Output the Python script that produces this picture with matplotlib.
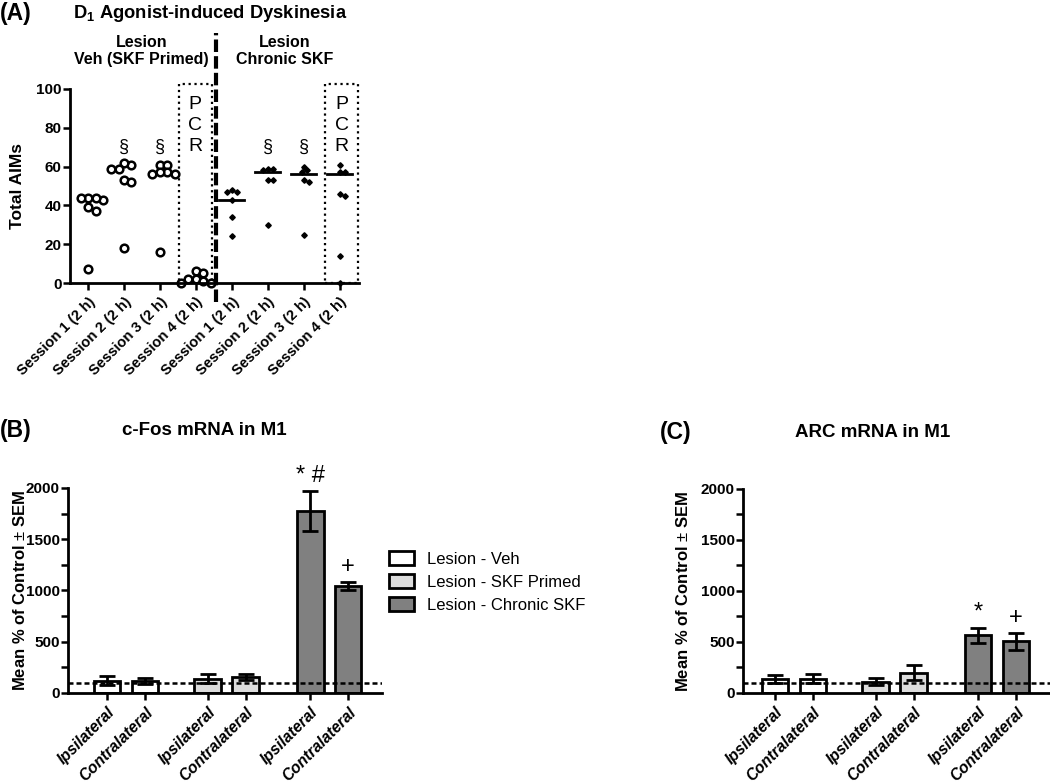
import numpy as np
import matplotlib
matplotlib.use("Agg")
import matplotlib.pyplot as plt
from matplotlib.patches import Patch, Rectangle

plt.rcParams['font.family'] = ['Liberation Sans', 'DejaVu Sans']
plt.rcParams['mathtext.fontset'] = 'custom'
plt.rcParams['mathtext.rm'] = 'Liberation Sans'
plt.rcParams['mathtext.bf'] = 'Liberation Sans:bold'

# ---- panel A data (Total AIMs per animal) ----
sessions = ['Session 1 (2 h)', 'Session 2 (2 h)', 'Session 3 (2 h)', 'Session 4 (2 h)'] * 2
veh_s1 = [44, 43, 44, 44, 39, 37, 7]
veh_s2 = [61, 62, 59, 59, 53, 52, 18]
veh_s3 = [61, 61, 56, 56, 57, 57, 16]
veh_s4 = [6, 5, 2, 1, 0, 0, 2]
chr_s1 = [47, 48, 47, 43, 34, 24]
chr_s2 = [59, 58, 59, 53, 53, 30]
chr_s3 = [60, 58, 57, 53, 52, 25]
chr_s4 = [61, 57, 57, 46, 45, 14, 0]
chr_center = [43, 57, 56, 56]
sig_sessions = [1, 2, 5, 6]

# ---- panels B / C data (mean % of control, SEM) ----
sides = ['Ipsilateral', 'Contralateral'] * 3
groups = ['Lesion - Veh', 'Lesion - SKF Primed', 'Lesion - Chronic SKF']
fos_mean = [120, 115, 140, 155, 1775, 1045]
fos_sem = [45, 28, 45, 30, 195, 38]
arc_mean = [140, 140, 110, 200, 565, 505]
arc_sem = [38, 45, 33, 70, 75, 85]
fos_marks = ['', '', '', '', '* #', '+']
arc_marks = ['', '', '', '', '*', '+']

bar_colors = ['white', 'white', '#dcdcdc', '#dcdcdc', '#808080', '#808080']
bar_pos = [0, 1, 2.65, 3.65, 5.35, 6.35]


def swarm(vals, size_px, sx=36.0, sy=1.94):
    vals = np.asarray(vals, dtype=float)
    offs = np.zeros(len(vals))
    placed = []
    for i in np.argsort(-vals):
        y = vals[i] * sy
        cands = [0.0]
        for j in range(1, 20):
            cands += [j * size_px / 3, -j * size_px / 3]
        for x in cands:
            if all((x - px) ** 2 + (y - py) ** 2 >= size_px ** 2 for px, py in placed):
                break
        placed.append((x, y))
        offs[i] = x / sx
    return offs


fig = plt.figure(figsize=(10.5, 7.84), dpi=100)

# ---------------- panel A ----------------
axA = fig.add_axes([0.0667, 0.639, 0.275, 0.2475])
for k, v in enumerate([veh_s1, veh_s2, veh_s3, veh_s4]):
    o = swarm(v, 7.5)
    axA.plot(k + o, v, 'o', mfc='white', mec='black', mew=1.8, ms=5.5, ls='none', clip_on=False)
for k, v in enumerate([chr_s1, chr_s2, chr_s3, chr_s4]):
    o = swarm(v, 5.0)
    axA.plot(4 + k + o, v, 'D', color='black', ms=2.8, ls='none', clip_on=False)
    axA.plot([4 + k - 0.35, 4 + k + 0.35], [chr_center[k]] * 2, color='black', lw=2)
for k in sig_sessions:
    axA.text(k, 70, '§', ha='center', va='center', fontsize=13)

for x0 in [2.52, 6.6]:
    axA.add_patch(Rectangle((x0, 0), 0.92, 102.5, fill=False, ls=':', lw=1.6,
                            ec='black', clip_on=False))
    for j, ch in enumerate('PCR'):
        axA.text(x0 + 0.46, 92 - 10.8 * j, ch, ha='center', va='center', fontsize=14)

axA.plot([3.55, 3.55], [-10, 129], color='black', lw=3, dashes=(3, 1), clip_on=False)

axA.set_xlim(-0.5, 7.53)
axA.set_ylim(0, 100)
axA.set_yticks([0, 20, 40, 60, 80, 100])
axA.set_xticks(range(8))
axA.set_xticklabels(sessions, rotation=45, ha='right', rotation_mode='anchor',
                    fontsize=10.5, fontweight='bold')
axA.set_ylabel('Total AIMs', fontsize=12.5, fontweight='bold')
axA.yaxis.set_label_coords(-0.155, 0.5)

fig.text(0.0, 0.983, '(A)', fontsize=16.5, fontweight='bold', va='center')
fig.text(0.2, 0.983, r'D$_\mathbf{1}$ Agonist-induced Dyskinesia', fontsize=13.2,
         fontweight='bold', ha='center', va='center')
fig.text(0.135, 0.935, 'Lesion\nVeh (SKF Primed)', fontsize=11.5, fontweight='bold',
         ha='center', va='center', linespacing=1.15)
fig.text(0.271, 0.935, 'Lesion\nChronic SKF', fontsize=11.5, fontweight='bold',
         ha='center', va='center', linespacing=1.15)


# ---------------- panels B / C ----------------
def bar_panel(rect, means, sems, marks, xlim, label_x):
    ax = fig.add_axes(rect)
    ax.bar(bar_pos, means, width=0.7, color=bar_colors, edgecolor='black', lw=2, zorder=2)
    ax.errorbar(bar_pos, means, yerr=sems, fmt='none', ecolor='black', elinewidth=2,
                capsize=6, capthick=2, zorder=3)
    ax.axhline(100, color='black', ls=(0, (2, 1.2)), lw=1.8, zorder=4)
    for x, m, s, t in zip(bar_pos, means, sems, marks):
        if t:
            ax.text(x, m + s + 40, t, ha='center', va='bottom', fontsize=17)
    ax.set_xlim(*xlim)
    ax.set_ylim(0, 2000)
    ax.set_yticks([0, 500, 1000, 1500, 2000])
    ax.set_yticks([250, 750, 1250, 1750], minor=True)
    ax.set_xticks(bar_pos)
    ax.set_xticklabels(sides, rotation=45, ha='right', rotation_mode='anchor',
                       fontsize=11.3, fontweight='bold', style='italic')
    ax.set_ylabel(r'Mean % of Control $\pm$ SEM', fontsize=12, fontweight='bold')
    ax.yaxis.set_label_coords(label_x, 0.5)
    return ax


axB = bar_panel([0.0648, 0.1161, 0.299, 0.2615], fos_mean, fos_sem, fos_marks,
                (-1.03, 7.24), -0.128)
axC = bar_panel([0.7076, 0.1161, 0.2924, 0.2602], arc_mean, arc_sem, arc_marks,
                (-0.84, 7.24), -0.17)

fig.text(0.0, 0.4515, '(B)', fontsize=16.5, fontweight='bold', va='center')
fig.text(0.195, 0.4515, 'c-Fos mRNA in M1', fontsize=13.5, fontweight='bold',
         ha='center', va='center')
fig.text(0.628, 0.448, '(C)', fontsize=16.5, fontweight='bold', va='center')
fig.text(0.831, 0.448, 'ARC mRNA in M1', fontsize=13.5, fontweight='bold',
         ha='center', va='center')

handles = [Patch(facecolor=c, edgecolor='black', lw=2) for c in ['white', '#dcdcdc', '#808080']]
fig.legend(handles, groups, loc='upper left', bbox_to_anchor=(0.37, 0.297),
           frameon=False, fontsize=12, handlelength=1.5, handleheight=0.9,
           labelspacing=0.45, handletextpad=0.8, borderaxespad=0, borderpad=0)

for ax in [axA, axB, axC]:
    for s in ['top', 'right']:
        ax.spines[s].set_visible(False)
    for s in ['left', 'bottom']:
        ax.spines[s].set_linewidth(2)
    ax.tick_params(axis='both', which='major', width=1.8, length=5)
    ax.tick_params(axis='y', which='major', pad=1)
    ax.tick_params(axis='y', which='minor', width=1.8, length=5)
    for t in ax.get_yticklabels():
        t.set_fontweight('bold')
        t.set_fontsize(11)
    ax.set_facecolor('none')

fig.savefig('out.png', dpi=100)
